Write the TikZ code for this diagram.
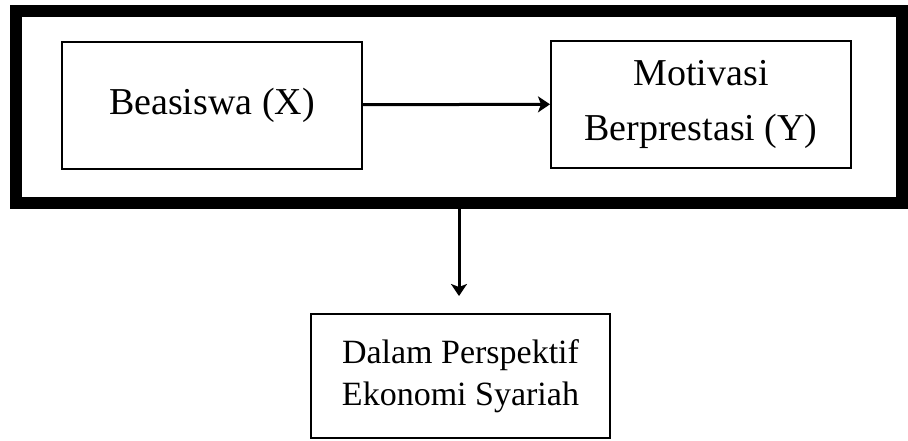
\documentclass[tikz,border=0pt]{standalone}
\usepackage{fontspec}
\setmainfont{Liberation Serif}
\usetikzlibrary{arrows.meta}
\tikzstyle{every node}=[draw, line width=2, align=center, inner sep=0]
\tikzstyle{varbox}=[minimum width=300, minimum height=127, font=\fontsize{38}{55}\selectfont]
\tikzstyle{arrow}=[line width=3, -{Stealth[length=12, width=16, inset=3]}]

\begin{document}
\begin{tikzpicture}[x=1pt, y=-1pt]
    \useasboundingbox (0,0) rectangle (908,440);
% Frame
    \node[line width=12, minimum width=886, minimum height=192] (frame) at (459,107) {};
% Variables
    \node[varbox] (beasiswa) at (212,105) {Beasiswa (X)};
    \node[varbox] (motivasi) at (701,104) {Motivasi\\Berprestasi (Y)};
    \node[varbox, minimum width=299, minimum height=124, font=\fontsize{34}{42}\selectfont] (syariah) at (460.5,376) {Dalam Perspektif\\Ekonomi Syariah};
% Arrows
    \draw[arrow] (beasiswa) -- (motivasi);
    \draw[arrow, shorten >=17] (frame.south) -- (frame.south |- syariah.north);
\end{tikzpicture}
\end{document}
